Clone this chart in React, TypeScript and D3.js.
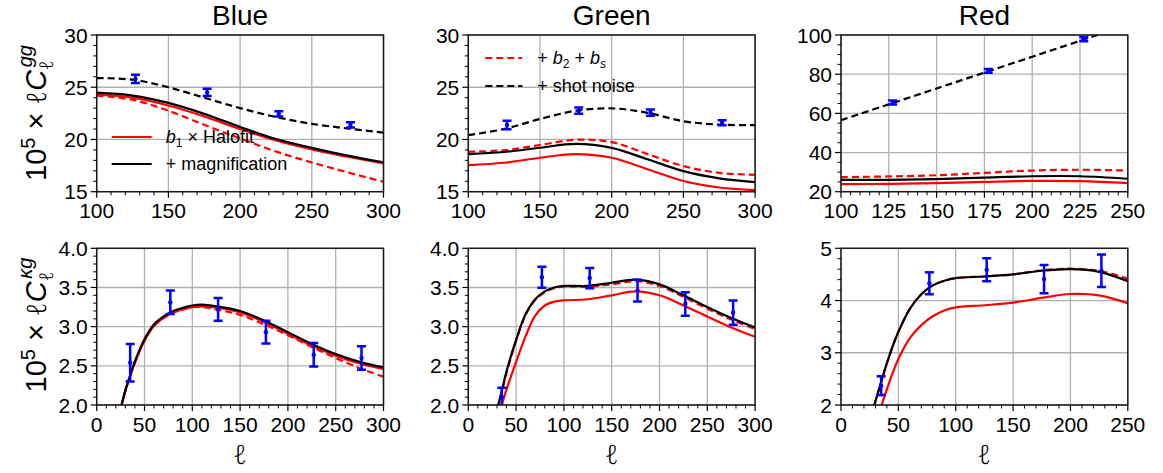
import React from 'react';
import * as d3 from 'd3';

// ---------- titles ----------
const titles = ['Blue', 'Green', 'Red'];

// ---------- top row: 10^5 x l C_l^gg ----------
const ellTopBG = [100, 125, 150, 175, 200, 225, 250, 275, 300];
const ggBlueHalofit = [24.28, 24.0, 23.25, 22.2, 21.0, 19.9, 19.05, 18.35, 17.7];
const ggBlueMagn = [24.48, 24.2, 23.5, 22.45, 21.2, 20.05, 19.2, 18.45, 17.8];
const ggBlueB2bs = [24.2, 23.8, 22.75, 21.4, 20.1, 18.85, 17.8, 16.85, 15.95];
const ggBlueShot = [25.88, 25.72, 25.0, 24.0, 23.0, 22.15, 21.5, 21.05, 20.65];

const ggGreenHalofit = [17.55, 17.77, 18.25, 18.6, 18.25, 17.15, 16.02, 15.4, 15.16];
const ggGreenMagn = [18.6, 18.8, 19.21, 19.57, 19.2, 18.1, 16.97, 16.28, 15.92];
const ggGreenB2bs = [18.83, 18.97, 19.47, 19.97, 19.75, 18.6, 17.45, 16.8, 16.62];
const ggGreenShot = [20.42, 21.0, 21.96, 22.75, 22.98, 22.55, 21.75, 21.42, 21.38];

const ellTopR = [100, 125, 150, 175, 200, 225, 250];
const ggRedHalofit = [23.9, 24.0, 24.4, 25.0, 25.5, 25.4, 24.4];
const ggRedMagn = [26.0, 26.05, 26.4, 27.2, 27.9, 27.9, 26.6];
const ggRedB2bs = [27.4, 27.8, 28.4, 29.6, 30.8, 31.2, 30.8];
const ggRedShot = [56.5, 64.6, 72.7, 80.8, 88.9, 97.0, 105.1];

const ellDataGG = [127, 177, 227, 277];
const ggBlueData = [25.8, 24.5, 22.45, 21.4];
const ggBlueErr = [0.4, 0.35, 0.25, 0.25];
const ggGreenData = [21.38, 22.75, 22.56, 21.6];
const ggGreenErr = [0.4, 0.3, 0.3, 0.25];
const ellDataGGRed = [127, 177, 227];
const ggRedData = [65.5, 81.7, 97.8];
const ggRedErr = [1.0, 1.0, 1.0];

// ---------- bottom row: 10^5 x l C_l^kg ----------
const ellBotBlue = [20, 25, 30, 35, 40, 50, 60, 70, 80, 90, 100, 110, 125, 150, 175, 200, 225, 250, 275, 300];
const kgBlueHalofit = [1.7, 1.95, 2.18, 2.37, 2.54, 2.82, 3.01, 3.11, 3.18, 3.22, 3.25, 3.26, 3.245, 3.18, 3.06, 2.91, 2.76, 2.63, 2.53, 2.46];
const kgBlueMagn = [1.7, 1.95, 2.19, 2.38, 2.56, 2.84, 3.03, 3.13, 3.2, 3.24, 3.27, 3.28, 3.26, 3.2, 3.08, 2.93, 2.78, 2.65, 2.55, 2.48];
const kgBlueB2bs = [1.7, 1.95, 2.18, 2.37, 2.54, 2.82, 3.01, 3.11, 3.18, 3.22, 3.25, 3.25, 3.22, 3.15, 3.03, 2.89, 2.74, 2.6, 2.47, 2.36];

const ellBotGreen = [25, 30, 35, 40, 50, 60, 70, 80, 90, 100, 125, 150, 175, 200, 225, 250, 275, 300];
const kgGreenHalofit = [1.55, 1.77, 2.0, 2.2, 2.55, 2.88, 3.14, 3.27, 3.32, 3.335, 3.35, 3.4, 3.45, 3.4, 3.27, 3.13, 2.99, 2.87];
const kgGreenMagn = [1.7, 1.94, 2.18, 2.43, 2.83, 3.16, 3.35, 3.45, 3.5, 3.52, 3.52, 3.56, 3.6, 3.54, 3.4, 3.25, 3.11, 2.99];
const kgGreenB2bs = [1.68, 1.92, 2.16, 2.41, 2.82, 3.15, 3.34, 3.44, 3.49, 3.51, 3.51, 3.54, 3.58, 3.52, 3.38, 3.23, 3.09, 2.97];

const ellBotRed = [20, 25, 30, 35, 40, 45, 50, 60, 70, 80, 90, 100, 125, 150, 175, 200, 225, 250];
const kgRedHalofit = [1.0, 1.3, 1.65, 1.97, 2.3, 2.61, 2.88, 3.28, 3.53, 3.7, 3.81, 3.87, 3.91, 3.96, 4.05, 4.125, 4.1, 3.95];
const kgRedMagn = [1.35, 1.7, 2.07, 2.44, 2.8, 3.12, 3.4, 3.84, 4.12, 4.29, 4.38, 4.43, 4.46, 4.5, 4.57, 4.6, 4.55, 4.37];
const kgRedB2bs = [1.35, 1.7, 2.07, 2.44, 2.8, 3.12, 3.4, 3.84, 4.12, 4.29, 4.38, 4.43, 4.46, 4.5, 4.58, 4.61, 4.57, 4.42];

const ellDataKG = [35, 77, 127, 177, 227, 277];
const kgBlueData = [2.54, 3.31, 3.22, 2.93, 2.64, 2.6];
const kgBlueErr = [0.24, 0.15, 0.145, 0.145, 0.15, 0.15];
const kgGreenData = [2.1, 3.63, 3.62, 3.46, 3.29, 3.18];
const kgGreenErr = [0.12, 0.135, 0.13, 0.14, 0.15, 0.155];
const ellDataKGRed = [35, 77, 127, 177, 227];
const kgRedData = [2.37, 4.33, 4.59, 4.41, 4.57];
const kgRedErr = [0.18, 0.21, 0.22, 0.27, 0.31];

// ---------- axis ticks ----------
const xTicksTop = [100, 150, 200, 250, 300];
const xTicksTopRed = [100, 125, 150, 175, 200, 225, 250];
const yTicksTop = [15, 20, 25, 30];
const yTicksTopRed = [20, 40, 60, 80, 100];
const xTicksBot = [0, 50, 100, 150, 200, 250, 300];
const xTicksBotRed = [0, 50, 100, 150, 200, 250];
const yTicksBot = [2.0, 2.5, 3.0, 3.5, 4.0];
const yTicksBotRed = [2, 3, 4, 5];

// ---------- layout ----------
const COL_X = [96.7, 468.3, 841];
const ROW_Y = [35, 248.3];
const W = 286.8;
const H = 156.7;
const FONT = '"Liberation Sans", Arial, Helvetica, sans-serif';
const ELL_FONT = '"Noto Sans", "DejaVu Sans", sans-serif';
const RED = '#ff0000';
const BLUE = '#0000ff';

type Series = { ell: number[]; v: number[]; color: string; dash?: string };
type Pts = { ell: number[]; v: number[]; e: number[] };
type Cfg = {
  xDomain: [number, number]; yDomain: [number, number];
  xTicks: number[]; yTicks: number[]; xMinor: number; yMinor: number;
  yFmt: (v: number) => string; series: Series[]; pts: Pts;
};

const intFmt = d3.format('d');
const oneFmt = d3.format('.1f');

const mk = (ell: number[], hal: number[], mag: number[], b2: number[], shot?: number[]): Series[] => {
  const s: Series[] = [
    { ell, v: hal, color: RED },
    { ell, v: b2, color: RED, dash: '7,4' },
    { ell, v: mag, color: '#000' },
  ];
  if (shot) s.push({ ell, v: shot, color: '#000', dash: '7,4' });
  return s;
};

const topCfgs: Cfg[] = [
  { xDomain: [100, 300], yDomain: [15, 30], xTicks: xTicksTop, yTicks: yTicksTop, xMinor: 10, yMinor: 1, yFmt: intFmt,
    series: mk(ellTopBG, ggBlueHalofit, ggBlueMagn, ggBlueB2bs, ggBlueShot), pts: { ell: ellDataGG, v: ggBlueData, e: ggBlueErr } },
  { xDomain: [100, 300], yDomain: [15, 30], xTicks: xTicksTop, yTicks: yTicksTop, xMinor: 10, yMinor: 1, yFmt: intFmt,
    series: mk(ellTopBG, ggGreenHalofit, ggGreenMagn, ggGreenB2bs, ggGreenShot), pts: { ell: ellDataGG, v: ggGreenData, e: ggGreenErr } },
  { xDomain: [100, 250], yDomain: [20, 100], xTicks: xTicksTopRed, yTicks: yTicksTopRed, xMinor: 5, yMinor: 5, yFmt: intFmt,
    series: mk(ellTopR, ggRedHalofit, ggRedMagn, ggRedB2bs, ggRedShot), pts: { ell: ellDataGGRed, v: ggRedData, e: ggRedErr } },
];
const botCfgs: Cfg[] = [
  { xDomain: [0, 300], yDomain: [2, 4], xTicks: xTicksBot, yTicks: yTicksBot, xMinor: 10, yMinor: 0.1, yFmt: oneFmt,
    series: mk(ellBotBlue, kgBlueHalofit, kgBlueMagn, kgBlueB2bs), pts: { ell: ellDataKG, v: kgBlueData, e: kgBlueErr } },
  { xDomain: [0, 300], yDomain: [2, 4], xTicks: xTicksBot, yTicks: yTicksBot, xMinor: 10, yMinor: 0.1, yFmt: oneFmt,
    series: mk(ellBotGreen, kgGreenHalofit, kgGreenMagn, kgGreenB2bs), pts: { ell: ellDataKG, v: kgGreenData, e: kgGreenErr } },
  { xDomain: [0, 250], yDomain: [2, 5], xTicks: xTicksBotRed, yTicks: yTicksBotRed, xMinor: 10, yMinor: 0.2, yFmt: intFmt,
    series: mk(ellBotRed, kgRedHalofit, kgRedMagn, kgRedB2bs), pts: { ell: ellDataKGRed, v: kgRedData, e: kgRedErr } },
];

function minors(domain: [number, number], step: number, majors: number[]) {
  const out: number[] = [];
  const n = Math.round((domain[1] - domain[0]) / step);
  for (let i = 0; i <= n; i++) {
    const v = domain[0] + i * step;
    if (!majors.some(m => Math.abs(m - v) < step * 1e-3)) out.push(v);
  }
  return out;
}

function Panel({ cfg, x0, y0, id }: { cfg: Cfg; x0: number; y0: number; id: string }) {
  const x = d3.scaleLinear().domain(cfg.xDomain).range([x0, x0 + W]);
  const y = d3.scaleLinear().domain(cfg.yDomain).range([y0 + H, y0]);
  const xMin = minors(cfg.xDomain, cfg.xMinor, cfg.xTicks);
  const yMin = minors(cfg.yDomain, cfg.yMinor, cfg.yTicks);
  return (
    <g>
      <defs>
        <clipPath id={id}>
          <rect x={x0} y={y0} width={W} height={H} />
        </clipPath>
      </defs>
      {cfg.xTicks.map(t => (
        <line key={'gx' + t} x1={x(t)} x2={x(t)} y1={y0} y2={y0 + H} stroke="#b0b0b0" strokeWidth={1.3} />
      ))}
      {cfg.yTicks.map(t => (
        <line key={'gy' + t} x1={x0} x2={x0 + W} y1={y(t)} y2={y(t)} stroke="#b0b0b0" strokeWidth={1.3} />
      ))}
      <g clipPath={`url(#${id})`}>
        {cfg.series.map((s, i) => (
          <path key={i}
            d={d3.line<number>().x((_, j) => x(s.ell[j])).y(d => y(d)).curve(d3.curveCatmullRom.alpha(0.5))(s.v) || ''}
            fill="none" stroke={s.color} strokeWidth={2.2} strokeDasharray={s.dash} />
        ))}
        {cfg.pts.ell.map((l, i) => {
          const cx = x(l);
          const top = y(cfg.pts.v[i] + cfg.pts.e[i]);
          const bot = y(cfg.pts.v[i] - cfg.pts.e[i]);
          return (
            <g key={'p' + i} stroke={BLUE} strokeWidth={2.5}>
              <line x1={cx} x2={cx} y1={top} y2={bot} />
              <line x1={cx - 4.5} x2={cx + 4.5} y1={top} y2={top} />
              <line x1={cx - 4.5} x2={cx + 4.5} y1={bot} y2={bot} />
              <circle cx={cx} cy={y(cfg.pts.v[i])} r={2.2} fill={BLUE} stroke="none" />
            </g>
          );
        })}
      </g>
      <rect x={x0} y={y0} width={W} height={H} fill="none" stroke="#1a1a1a" strokeWidth={1.5} />
      {cfg.xTicks.map(t => (
        <g key={'xt' + t}>
          <line x1={x(t)} x2={x(t)} y1={y0 + H} y2={y0 + H + 6} stroke="#000" strokeWidth={1.2} />
          <text x={x(t)} y={y0 + H + 26.5} textAnchor="middle" fontSize={21} fontFamily={FONT} fill="#000">{intFmt(t)}</text>
        </g>
      ))}
      {xMin.map(t => (
        <line key={'xm' + t} x1={x(t)} x2={x(t)} y1={y0 + H} y2={y0 + H + 3.5} stroke="#000" strokeWidth={1} />
      ))}
      {cfg.yTicks.map(t => (
        <g key={'yt' + t}>
          <line x1={x0 - 6} x2={x0} y1={y(t)} y2={y(t)} stroke="#000" strokeWidth={1.2} />
          <text x={x0 - 9} y={y(t)} dy="0.36em" textAnchor="end" fontSize={21} fontFamily={FONT} fill="#000">{cfg.yFmt(t)}</text>
        </g>
      ))}
      {yMin.map(t => (
        <line key={'ym' + t} x1={x0 - 3.5} x2={x0} y1={y(t)} y2={y(t)} stroke="#000" strokeWidth={1} />
      ))}
    </g>
  );
}

function YLabel({ cx, cy, sup }: { cx: number; cy: number; sup: React.ReactNode }) {
  return (
    <text transform={`translate(${cx},${cy}) rotate(-90)`} textAnchor="middle" fontSize={29} fontFamily={FONT} fill="#000">
      <tspan>10</tspan>
      <tspan dy={-11} fontSize={20}>5</tspan>
      <tspan dy={11}>{' \u00d7 '}</tspan>
      <tspan fontFamily={ELL_FONT} fontSize={27} fontWeight={300} fontStyle="italic">{'\u2113'}</tspan>
      <tspan fontStyle="italic">C</tspan>
      <tspan dy={7} fontSize={19} fontFamily={ELL_FONT} fontWeight={300} fontStyle="italic">{'\u2113'}</tspan>
      <tspan dx={-7} dy={-21} fontSize={20} fontStyle="italic">{sup}</tspan>
    </text>
  );
}

export default function App() {
  const legX1 = COL_X[0] + 15;
  const legX2 = COL_X[0] + 55;
  const legTX = COL_X[0] + 69;
  const leg2X1 = COL_X[1] + 17;
  const leg2X2 = COL_X[1] + 54;
  const leg2TX = COL_X[1] + 69;
  return (
    <svg width={1163} height={473} style={{ position: 'absolute', left: 0, top: 0, background: '#fff' }}>
      <rect x={0} y={0} width={1163} height={473} fill="#fff" />
      {titles.map((t, i) => (
        <text key={t} x={COL_X[i] + W / 2} y={25} textAnchor="middle" fontSize={28} fontFamily={FONT} fill="#000">{t}</text>
      ))}
      {topCfgs.map((c, i) => <Panel key={'t' + i} cfg={c} x0={COL_X[i]} y0={ROW_Y[0]} id={'clipT' + i} />)}
      {botCfgs.map((c, i) => <Panel key={'b' + i} cfg={c} x0={COL_X[i]} y0={ROW_Y[1]} id={'clipB' + i} />)}

      <YLabel cx={46} cy={113} sup="gg" />
      <YLabel cx={46} cy={325} sup={'\u03bag'} />

      {COL_X.map((x, i) => (
        <text key={'xl' + i} x={x + W / 2} y={464} textAnchor="middle" fontSize={27} fontWeight={300} fontStyle="italic"
          fontFamily={ELL_FONT} fill="#000">{'\u2113'}</text>
      ))}

      {/* legend, left top panel */}
      <line x1={legX1} x2={legX2} y1={137} y2={137} stroke={RED} strokeWidth={2.2} />
      <text x={legTX} y={137} dy="0.36em" fontSize={18} fontFamily={FONT} fill="#000">
        <tspan fontStyle="italic">b</tspan><tspan fontSize={12} dy={4}>1</tspan><tspan dy={-4}>{' \u00d7 Halofit'}</tspan>
      </text>
      <line x1={legX1} x2={legX2} y1={164} y2={164} stroke="#000" strokeWidth={2.2} />
      <text x={legTX} y={164} dy="0.36em" fontSize={18} fontFamily={FONT} fill="#000">+ magnification</text>

      {/* legend, middle top panel */}
      <line x1={leg2X1} x2={leg2X2} y1={58} y2={58} stroke={RED} strokeWidth={2.2} strokeDasharray="7,4" />
      <text x={leg2TX} y={58} dy="0.36em" fontSize={18} fontFamily={FONT} fill="#000">
        {'+ '}<tspan fontStyle="italic">b</tspan><tspan fontSize={12} dy={4}>2</tspan>
        <tspan dy={-4}>{' + '}</tspan><tspan fontStyle="italic">b</tspan><tspan fontSize={12} dy={4} fontStyle="italic">s</tspan>
      </text>
      <line x1={leg2X1} x2={leg2X2} y1={86} y2={86} stroke="#000" strokeWidth={2.2} strokeDasharray="7,4" />
      <text x={leg2TX} y={86} dy="0.36em" fontSize={18} fontFamily={FONT} fill="#000">+ shot noise</text>
    </svg>
  );
}
